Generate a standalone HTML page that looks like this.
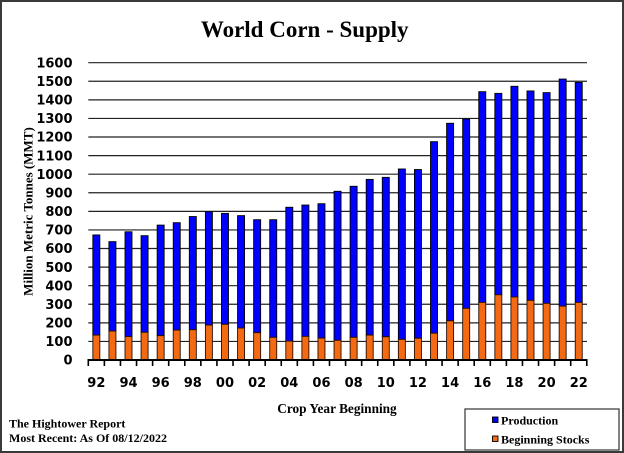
<!DOCTYPE html>
<html><head><meta charset="utf-8">
<style>
html,body{margin:0;padding:0;background:#fff;}
svg{display:block;}
.yl{font-family:"DejaVu Sans",sans-serif;font-weight:bold;font-size:13px;fill:#000;text-anchor:end;}
.xl{font-family:"DejaVu Sans",sans-serif;font-weight:bold;font-size:13px;fill:#000;text-anchor:middle;}
.sf{font-family:"Liberation Serif",serif;font-weight:bold;fill:#000;}
</style></head>
<body>
<svg width="624" height="453" viewBox="0 0 624 453" xmlns="http://www.w3.org/2000/svg">
<rect x="0" y="0" width="624" height="453" fill="#fff"/>
<rect x="1" y="1" width="622" height="451" fill="none" stroke="#3a3a3a" stroke-width="2"/>
<text class="sf" x="304.7" y="37" font-size="23" text-anchor="middle">World Corn - Supply</text>
<g stroke="#222" stroke-width="1.2">
<line x1="88.3" x2="587" y1="341.42" y2="341.42"/>
<line x1="88.3" x2="587" y1="322.84" y2="322.84"/>
<line x1="88.3" x2="587" y1="304.26" y2="304.26"/>
<line x1="88.3" x2="587" y1="285.68" y2="285.68"/>
<line x1="88.3" x2="587" y1="267.09" y2="267.09"/>
<line x1="88.3" x2="587" y1="248.51" y2="248.51"/>
<line x1="88.3" x2="587" y1="229.93" y2="229.93"/>
<line x1="88.3" x2="587" y1="211.35" y2="211.35"/>
<line x1="88.3" x2="587" y1="192.77" y2="192.77"/>
<line x1="88.3" x2="587" y1="174.19" y2="174.19"/>
<line x1="88.3" x2="587" y1="155.61" y2="155.61"/>
<line x1="88.3" x2="587" y1="137.03" y2="137.03"/>
<line x1="88.3" x2="587" y1="118.44" y2="118.44"/>
<line x1="88.3" x2="587" y1="99.86" y2="99.86"/>
<line x1="88.3" x2="587" y1="81.28" y2="81.28"/>
<line x1="88.3" x2="587" y1="62.70" y2="62.70"/>
</g>
<g class="yl">
<text class="yl" x="72.5" y="364.7">0</text>
<text class="yl" x="72.5" y="346.1">100</text>
<text class="yl" x="72.5" y="327.5">200</text>
<text class="yl" x="72.5" y="309.0">300</text>
<text class="yl" x="72.5" y="290.4">400</text>
<text class="yl" x="72.5" y="271.8">500</text>
<text class="yl" x="72.5" y="253.2">600</text>
<text class="yl" x="72.5" y="234.6">700</text>
<text class="yl" x="72.5" y="216.0">800</text>
<text class="yl" x="72.5" y="197.5">900</text>
<text class="yl" x="72.5" y="178.9">1000</text>
<text class="yl" x="72.5" y="160.3">1100</text>
<text class="yl" x="72.5" y="141.7">1200</text>
<text class="yl" x="72.5" y="123.1">1300</text>
<text class="yl" x="72.5" y="104.6">1400</text>
<text class="yl" x="72.5" y="86.0">1500</text>
<text class="yl" x="72.5" y="67.4">1600</text>
</g>
<text class="sf" font-size="13" text-anchor="middle" transform="translate(32.5,211.5) rotate(-90)">Million Metric Tonnes (MMT)</text>
<g fill="#0000FF" stroke="#000" stroke-width="0.9">
<rect x="92.84" y="234.95" width="7" height="100.15"/>
<rect x="108.92" y="241.64" width="7" height="89.37"/>
<rect x="125.00" y="231.79" width="7" height="104.80"/>
<rect x="141.08" y="235.69" width="7" height="96.62"/>
<rect x="157.16" y="225.10" width="7" height="110.56"/>
<rect x="173.24" y="222.69" width="7" height="107.39"/>
<rect x="189.32" y="216.55" width="7" height="113.16"/>
<rect x="205.40" y="211.72" width="7" height="113.35"/>
<rect x="221.48" y="213.40" width="7" height="110.92"/>
<rect x="237.56" y="215.63" width="7" height="112.41"/>
<rect x="253.64" y="219.71" width="7" height="112.98"/>
<rect x="269.72" y="219.71" width="7" height="117.62"/>
<rect x="285.80" y="207.26" width="7" height="133.79"/>
<rect x="301.88" y="205.03" width="7" height="131.37"/>
<rect x="317.96" y="203.73" width="7" height="134.34"/>
<rect x="334.04" y="191.28" width="7" height="149.02"/>
<rect x="350.12" y="186.27" width="7" height="151.06"/>
<rect x="366.20" y="179.39" width="7" height="155.71"/>
<rect x="382.28" y="177.35" width="7" height="159.42"/>
<rect x="398.36" y="168.99" width="7" height="170.39"/>
<rect x="414.44" y="169.54" width="7" height="168.72"/>
<rect x="430.52" y="141.67" width="7" height="191.57"/>
<rect x="446.60" y="123.28" width="7" height="197.51"/>
<rect x="462.68" y="119.00" width="7" height="189.34"/>
<rect x="478.76" y="91.69" width="7" height="210.71"/>
<rect x="494.84" y="93.36" width="7" height="201.42"/>
<rect x="510.92" y="86.30" width="7" height="210.71"/>
<rect x="527.00" y="90.95" width="7" height="209.40"/>
<rect x="543.08" y="92.62" width="7" height="210.71"/>
<rect x="559.16" y="79.06" width="7" height="227.06"/>
<rect x="575.24" y="82.40" width="7" height="220.00"/>
</g>
<g fill="#F36A12" stroke="#2a1000" stroke-width="0.9">
<rect x="92.84" y="335.10" width="7" height="24.90"/>
<rect x="108.92" y="331.01" width="7" height="28.99"/>
<rect x="125.00" y="336.59" width="7" height="23.41"/>
<rect x="141.08" y="332.31" width="7" height="27.69"/>
<rect x="157.16" y="335.66" width="7" height="24.34"/>
<rect x="173.24" y="330.08" width="7" height="29.92"/>
<rect x="189.32" y="329.71" width="7" height="30.29"/>
<rect x="205.40" y="325.07" width="7" height="34.93"/>
<rect x="221.48" y="324.32" width="7" height="35.68"/>
<rect x="237.56" y="328.04" width="7" height="31.96"/>
<rect x="253.64" y="332.69" width="7" height="27.31"/>
<rect x="269.72" y="337.33" width="7" height="22.67"/>
<rect x="285.80" y="341.05" width="7" height="18.95"/>
<rect x="301.88" y="336.40" width="7" height="23.60"/>
<rect x="317.96" y="338.07" width="7" height="21.93"/>
<rect x="334.04" y="340.30" width="7" height="19.70"/>
<rect x="350.12" y="337.33" width="7" height="22.67"/>
<rect x="366.20" y="335.10" width="7" height="24.90"/>
<rect x="382.28" y="336.77" width="7" height="23.23"/>
<rect x="398.36" y="339.38" width="7" height="20.62"/>
<rect x="414.44" y="338.26" width="7" height="21.74"/>
<rect x="430.52" y="333.24" width="7" height="26.76"/>
<rect x="446.60" y="320.79" width="7" height="39.21"/>
<rect x="462.68" y="308.34" width="7" height="51.66"/>
<rect x="478.76" y="302.40" width="7" height="57.60"/>
<rect x="494.84" y="294.78" width="7" height="65.22"/>
<rect x="510.92" y="297.01" width="7" height="62.99"/>
<rect x="527.00" y="300.35" width="7" height="59.65"/>
<rect x="543.08" y="303.33" width="7" height="56.67"/>
<rect x="559.16" y="306.12" width="7" height="53.88"/>
<rect x="575.24" y="302.40" width="7" height="57.60"/>
</g>
<line x1="87.5" x2="587.5" y1="360" y2="360" stroke="#000" stroke-width="2"/>
<path stroke="#000" stroke-width="1.6" fill="none" d="M88.3 360V366M104.38 360V366M120.46 360V366M136.54 360V366M152.62 360V366M168.7 360V366M184.78 360V366M200.86 360V366M216.94 360V366M233.02 360V366M249.1 360V366M265.18 360V366M281.26 360V366M297.34 360V366M313.42 360V366M329.5 360V366M345.58 360V366M361.66 360V366M377.74 360V366M393.82 360V366M409.9 360V366M425.98 360V366M442.06 360V366M458.14 360V366M474.22 360V366M490.3 360V366M506.38 360V366M522.46 360V366M538.54 360V366M554.62 360V366M570.7 360V366M586.78 360V366"/>
<g>
<text class="xl" x="96.34" y="387">92</text>
<text class="xl" x="128.5" y="387">94</text>
<text class="xl" x="160.66" y="387">96</text>
<text class="xl" x="192.82" y="387">98</text>
<text class="xl" x="224.98" y="387">00</text>
<text class="xl" x="257.14" y="387">02</text>
<text class="xl" x="289.3" y="387">04</text>
<text class="xl" x="321.46" y="387">06</text>
<text class="xl" x="353.62" y="387">08</text>
<text class="xl" x="385.78" y="387">10</text>
<text class="xl" x="417.94" y="387">12</text>
<text class="xl" x="450.1" y="387">14</text>
<text class="xl" x="482.26" y="387">16</text>
<text class="xl" x="514.42" y="387">18</text>
<text class="xl" x="546.58" y="387">20</text>
<text class="xl" x="578.74" y="387">22</text>
</g>
<text class="sf" x="337" y="413" font-size="13.3" text-anchor="middle">Crop Year Beginning</text>
<text class="sf" x="9" y="427.5" font-size="12">The Hightower Report</text>
<text class="sf" x="9" y="442" font-size="12">Most Recent: As Of 08/12/2022</text>
<rect x="465" y="409" width="154" height="41" fill="#fff" stroke="#333" stroke-width="1.2"/>
<rect x="492.5" y="417" width="5.5" height="5.5" fill="#0000FF" stroke="#000" stroke-width="0.9"/>
<text class="sf" x="501" y="424.5" font-size="12">Production</text>
<rect x="492.5" y="436" width="5.5" height="5.5" fill="#F36A12" stroke="#000" stroke-width="0.9"/>
<text class="sf" x="501" y="443.5" font-size="12">Beginning Stocks</text>
</svg>
</body></html>
